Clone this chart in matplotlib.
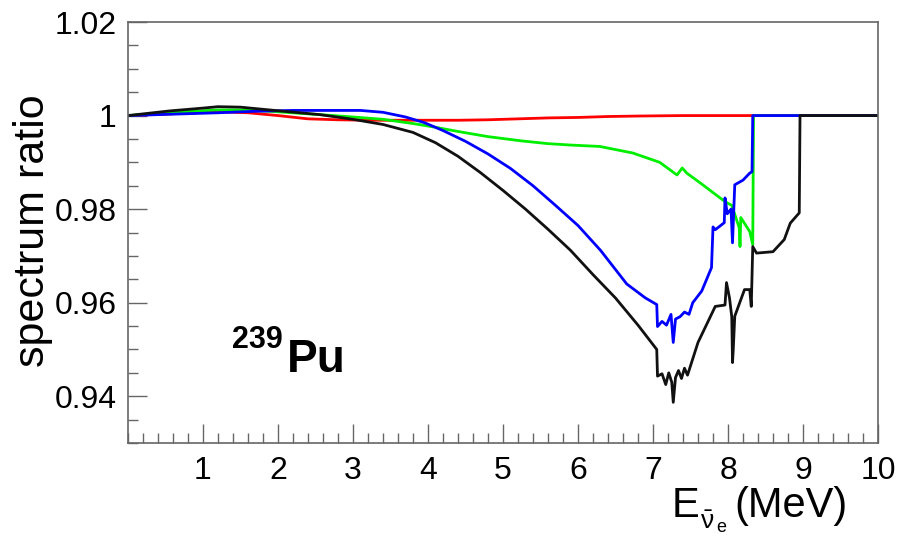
import matplotlib
matplotlib.use("Agg")
import matplotlib.pyplot as plt
from matplotlib.ticker import MultipleLocator

plt.rcParams['font.family'] = ['Liberation Sans', 'DejaVu Sans']
plt.rcParams['mathtext.fontset'] = 'custom'
plt.rcParams['mathtext.rm'] = 'Liberation Sans'
plt.rcParams['mathtext.it'] = 'Liberation Sans'
plt.rcParams['mathtext.bf'] = 'Liberation Sans:bold'

# spectrum ratio curves (E in MeV)
red_x = [0, 0.6, 1.2, 1.6, 2.0, 2.4, 2.8, 3.2, 3.6, 4.0, 4.4, 4.8, 5.2, 5.6, 6.0, 6.4, 6.8, 7.4, 8.0, 8.33, 10]
red_y = [1.0, 1.0004, 1.0008, 1.0006, 1.0000, 0.9993, 0.9991, 0.9990, 0.9990, 0.9990, 0.9990, 0.9991,
         0.9993, 0.9995, 0.9996, 0.9998, 0.9999, 1.0, 1.0, 1.0, 1.0]

green_x = [0, 0.6, 1.2, 1.6, 2.0, 2.56, 3.0, 3.4, 3.8, 4.1, 4.4, 4.8, 5.24, 5.6, 5.9, 6.29, 6.73, 7.09,
           7.32, 7.39, 7.45, 7.63, 7.96, 8.05, 8.15, 8.16, 8.17, 8.29, 8.33, 8.34, 10]
green_y = [1.0, 1.0007, 1.0012, 1.0012, 1.0008, 1.0002, 0.9997, 0.9992, 0.9983, 0.9975, 0.9966, 0.9955,
           0.9946, 0.9940, 0.9937, 0.9934, 0.9920, 0.9900, 0.9873, 0.9888, 0.9877, 0.9856, 0.9816, 0.9808,
           0.9760, 0.9720, 0.9782, 0.9752, 0.9724, 1.0, 1.0]

blue_x = [0, 0.6, 1.2, 1.67, 2.2, 2.8, 3.1, 3.4, 3.7, 3.95, 4.2, 4.5, 4.8, 5.1, 5.4, 5.7, 6.0, 6.3, 6.65,
          6.9, 7.05, 7.06, 7.12, 7.18, 7.24, 7.27, 7.30, 7.36, 7.42, 7.48, 7.53, 7.65, 7.78, 7.80, 7.83,
          7.95, 7.96, 7.99, 8.04, 8.06, 8.09, 8.2, 8.29, 8.32, 8.33, 10]
blue_y = [1.0, 1.0003, 1.0006, 1.0009, 1.0011, 1.0011, 1.0011, 1.0007, 0.9997, 0.9985, 0.9968, 0.9945,
          0.9918, 0.9887, 0.9850, 0.9808, 0.9765, 0.9712, 0.9640, 0.9610, 0.9596, 0.9549, 0.9560, 0.9552,
          0.9575, 0.9515, 0.9565, 0.9570, 0.9580, 0.9575, 0.9600, 0.9625, 0.9675, 0.9762, 0.9756, 0.9771,
          0.9824, 0.9790, 0.9800, 0.9728, 0.9852, 0.9862, 0.9877, 0.9880, 1.0, 1.0]

black_x = [0, 0.56, 1.0, 1.2, 1.5, 1.89, 2.56, 3.0, 3.4, 3.8, 4.1, 4.4, 4.7, 5.0, 5.3, 5.6, 5.9, 6.2, 6.5,
           6.8, 7.05, 7.06, 7.12, 7.17, 7.21, 7.25, 7.27, 7.30, 7.34, 7.38, 7.42, 7.46, 7.50, 7.60, 7.83,
           7.96, 7.98, 8.02, 8.05, 8.06, 8.07, 8.09, 8.22, 8.29, 8.31, 8.33, 8.38, 8.6, 8.75, 8.83, 8.95,
           8.96, 10]
black_y = [1.0, 1.0010, 1.0016, 1.0019, 1.0018, 1.0012, 1.0002, 0.9992, 0.9981, 0.9964, 0.9942, 0.9913,
           0.9878, 0.9840, 0.9800, 0.9757, 0.9712, 0.9660, 0.9610, 0.9552, 0.9500, 0.9443, 0.9448, 0.9425,
           0.9450, 0.9430, 0.9387, 0.9440, 0.9455, 0.9438, 0.9460, 0.9445, 0.9465, 0.9515, 0.9592, 0.9595,
           0.9643, 0.9610, 0.9570, 0.9472, 0.9500, 0.9571, 0.9628, 0.9628, 0.9592, 0.9720, 0.9706, 0.9709,
           0.9735, 0.9770, 0.9792, 1.0, 1.0]

x_ticks = [1, 2, 3, 4, 5, 6, 7, 8, 9, 10]
y_ticks = [0.94, 0.96, 0.98, 1.0, 1.02]
y_tick_labels = ['0.94', '0.96', '0.98', '1', '1.02']

fig = plt.figure(figsize=(9.01, 5.37), dpi=100)
ax = fig.add_axes([0.142, 0.175, 0.8325, 0.784])

lw = 2.0
ax.plot(red_x, red_y, color='#ff0000', lw=lw)
ax.plot(green_x, green_y, color='#00ee00', lw=lw)
ax.plot(blue_x, blue_y, color='#0000ff', lw=lw)
ax.plot(black_x, black_y, color='#111111', lw=lw)

ax.set_xlim(0, 10)
ax.set_ylim(0.93, 1.02)
ax.set_xticks(x_ticks)
ax.set_yticks(y_ticks)
ax.set_yticklabels(y_tick_labels)
ax.xaxis.set_minor_locator(MultipleLocator(0.2))
ax.yaxis.set_minor_locator(MultipleLocator(0.005))

for s in ax.spines.values():
    s.set_color('#666666')
    s.set_linewidth(1.2)
ax.tick_params(which='both', direction='in', color='#666666', width=1.0,
               top=False, right=False, labelsize=23)
ax.tick_params(which='major', length=14)
ax.tick_params(which='minor', length=7)
ax.tick_params(axis='x', pad=9)
ax.tick_params(axis='y', pad=8)

fig.text(0.037, 0.57, 'spectrum ratio', rotation=90, fontsize=31,
         ha='center', va='center')

# x title: E with a low anti-neutrino subscript, ROOT style
fig.text(0.745, 0.037, 'E', fontsize=30, ha='left', va='baseline')
fig.text(0.777, 0.014, r'$\bar{\nu}$', fontsize=19, ha='left', va='baseline')
fig.text(0.795, 0.009, 'e', fontsize=13, ha='left', va='baseline')
fig.text(0.941, 0.037, '(MeV)', fontsize=30, ha='right', va='baseline')

ax.text(0.1387, 0.2257, '239', transform=ax.transAxes, fontsize=22,
        fontweight='bold', ha='left', va='baseline')
ax.text(0.212, 0.169, 'Pu', transform=ax.transAxes, fontsize=33,
        fontweight='bold', ha='left', va='baseline')

fig.savefig('out.png', dpi=100, facecolor='white')
